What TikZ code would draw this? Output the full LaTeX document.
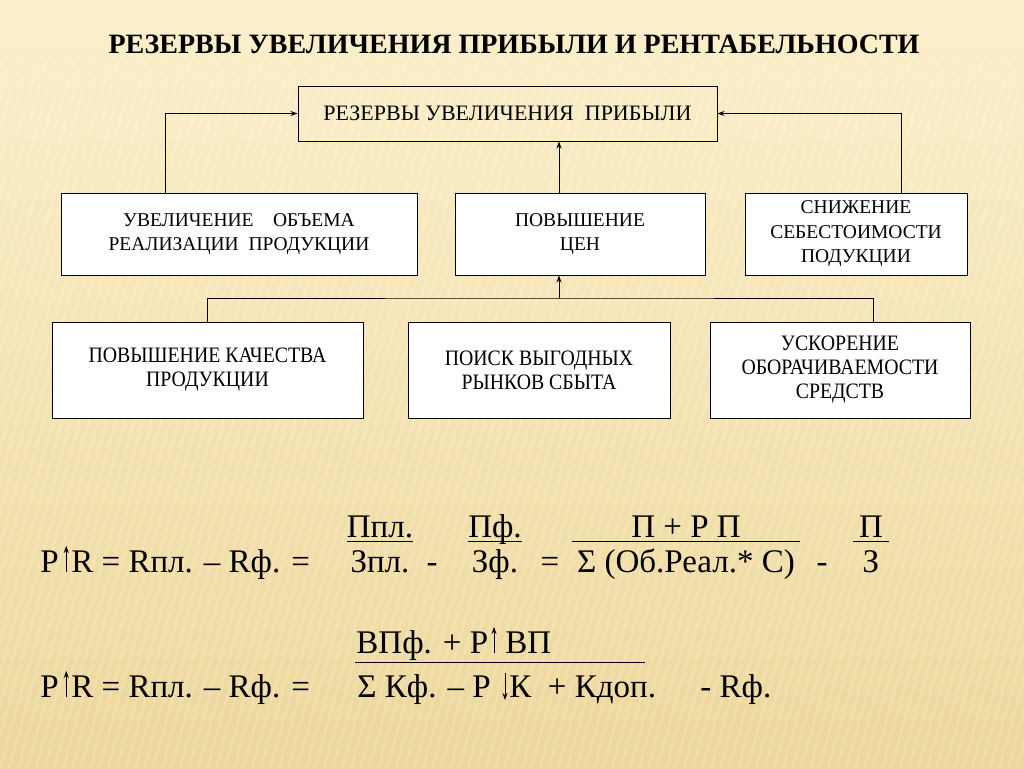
\documentclass[tikz,border=0pt]{standalone}
\usepackage{fontspec}
\setmainfont{Liberation Serif}
\newfontfamily\narrowserif[FakeStretch=0.9]{Liberation Serif}
\usetikzlibrary{arrows.meta}

\definecolor{paper}{HTML}{FBF0CC}
\definecolor{gold}{HTML}{EDD79C}

\tikzset{%
  every block/.style={
    draw,
    fill=white,
    line width=1pt,
    align=center,
    inner sep=0pt,
    font=\fontsize{19.5}{24.5}\selectfont
  },
  block low/.style={
    minimum height=96pt,
    font=\narrowserif\fontsize{22}{24}\selectfont
  },
  formula/.style={
    inner sep=0pt,
    font=\fontsize{33}{38}\selectfont
  },
  bar/.style={line width=0.9pt},
}

\begin{document}
\begin{tikzpicture}[x=1pt, y=-1pt, >={Stealth[length=7pt,width=5pt]}, line width=0.9pt]

\useasboundingbox (0,0) rectangle (1024,768);
\shade [top color=paper, bottom color=gold] (0,0) rectangle (1024,768);
\begin{scope}
  \clip (0,60) rectangle (1024,768);
  \foreach \s in {-30,...,115}
    \draw [white, opacity=0.18, line width=2pt] (\s*9,768) -- (\s*9+200,60);
\end{scope}

\node [font=\bfseries\fontsize{28}{32}\selectfont, anchor=base] (title)
  at (514,54) {РЕЗЕРВЫ УВЕЛИЧЕНИЯ ПРИБЫЛИ И РЕНТАБЕЛЬНОСТИ};

\node [every block, fill=none, minimum width=419pt, minimum height=55pt,
  font=\fontsize{22}{26}\selectfont] (reserve)
  at (507.5,113.5) {РЕЗЕРВЫ УВЕЛИЧЕНИЯ~~ПРИБЫЛИ};

\foreach \x/\w/\t [count=\i] in {
    239/356pt/{УВЕЛИЧЕНИЕ\quad ОБЪЕМА\\РЕАЛИЗАЦИИ~~ПРОДУКЦИИ},
    580/250pt/{ПОВЫШЕНИЕ\\ЦЕН},
    856/222pt/{СНИЖЕНИЕ\\СЕБЕСТОИМОСТИ\\ПОДУКЦИИ}}
  \node [every block, minimum width=\w, minimum height=82pt] (factor-\i) at (\x,234) {\t};

\foreach \x/\w/\t [count=\i] in {
    207.5/311pt/{ПОВЫШЕНИЕ КАЧЕСТВА\\ПРОДУКЦИИ},
    539/262pt/{ПОИСК ВЫГОДНЫХ\\РЫНКОВ СБЫТА},
    840/260pt/{УСКОРЕНИЕ\\ОБОРАЧИВАЕМОСТИ\\СРЕДСТВ}}
  \node [every block, block low, minimum width=\w] (source-\i) at (\x,370) {\t};

\draw [->] ([xshift=-74pt]factor-1.north) |- (reserve.west);
\draw [->] ([xshift=45pt]factor-3.north) |- (reserve.east);
\draw [->] ([xshift=-21pt]factor-2.north) -- ([xshift=-21pt]factor-2.north |- reserve.south);

\coordinate (bus) at (559,298);
\draw (source-1.north) |- (bus) -| ([xshift=33pt]source-3.north);
\draw [->] (bus) -- ([xshift=-21pt]factor-2.south);

\node [formula, anchor=base west] (p-1) at (40,572) {Р};
\node [formula, anchor=base west] (r-1) at (71,572) {R = Rпл. – Rф. =};
\draw [->] ([xshift=7pt]p-1.base east) -- ++(0,-26);

\foreach \num/\den/\x/\w [count=\i] in {
    Ппл./Зпл./380/33, Пф./Зф./495/27,
    П + Р П/Σ (Об.Реал.* С)/686/114, П/З/871/18} {
  \node [formula, anchor=base] (num-\i) at (\x,537) {\num};
  \node [formula, anchor=base] (den-\i) at (\x,572) {\den};
  \draw [bar] (\x-\w,541) -- (\x+\w,541);
}

\node [formula, anchor=base] (minus-1) at (432,572) {-};
\node [formula, anchor=base] (eq-1) at (550,572) {=};
\node [formula, anchor=base] (minus-2) at (822,572) {-};

\node [formula, anchor=base west] (p-2) at (40,697) {Р};
\node [formula, anchor=base west] (r-2) at (71,697) {R = Rпл. – Rф. =};
\draw [->] ([xshift=7pt]p-2.base east) -- ++(0,-26);

\node [formula, anchor=base west] (num-5) at (356,653) {ВПф. + Р};
\node [formula, anchor=base west] (num-6) at (505,653) {ВП};
\draw [->] ([xshift=-11pt]num-6.base west) -- ++(0,-26);
\draw [bar] (355,662) -- (645,662);

\node [formula, anchor=base west] (den-5) at (357,697) {Σ Кф. – Р};
\node [formula, anchor=base west] (den-6) at (509,697) {К~~+ Кдоп.};
\draw [->] ([xshift=-4pt,yshift=24pt]den-6.base west) -- ++(0,27);
\node [formula, anchor=base west] (rest-2) at (700,697) {- Rф.};

\end{tikzpicture}
\end{document}
